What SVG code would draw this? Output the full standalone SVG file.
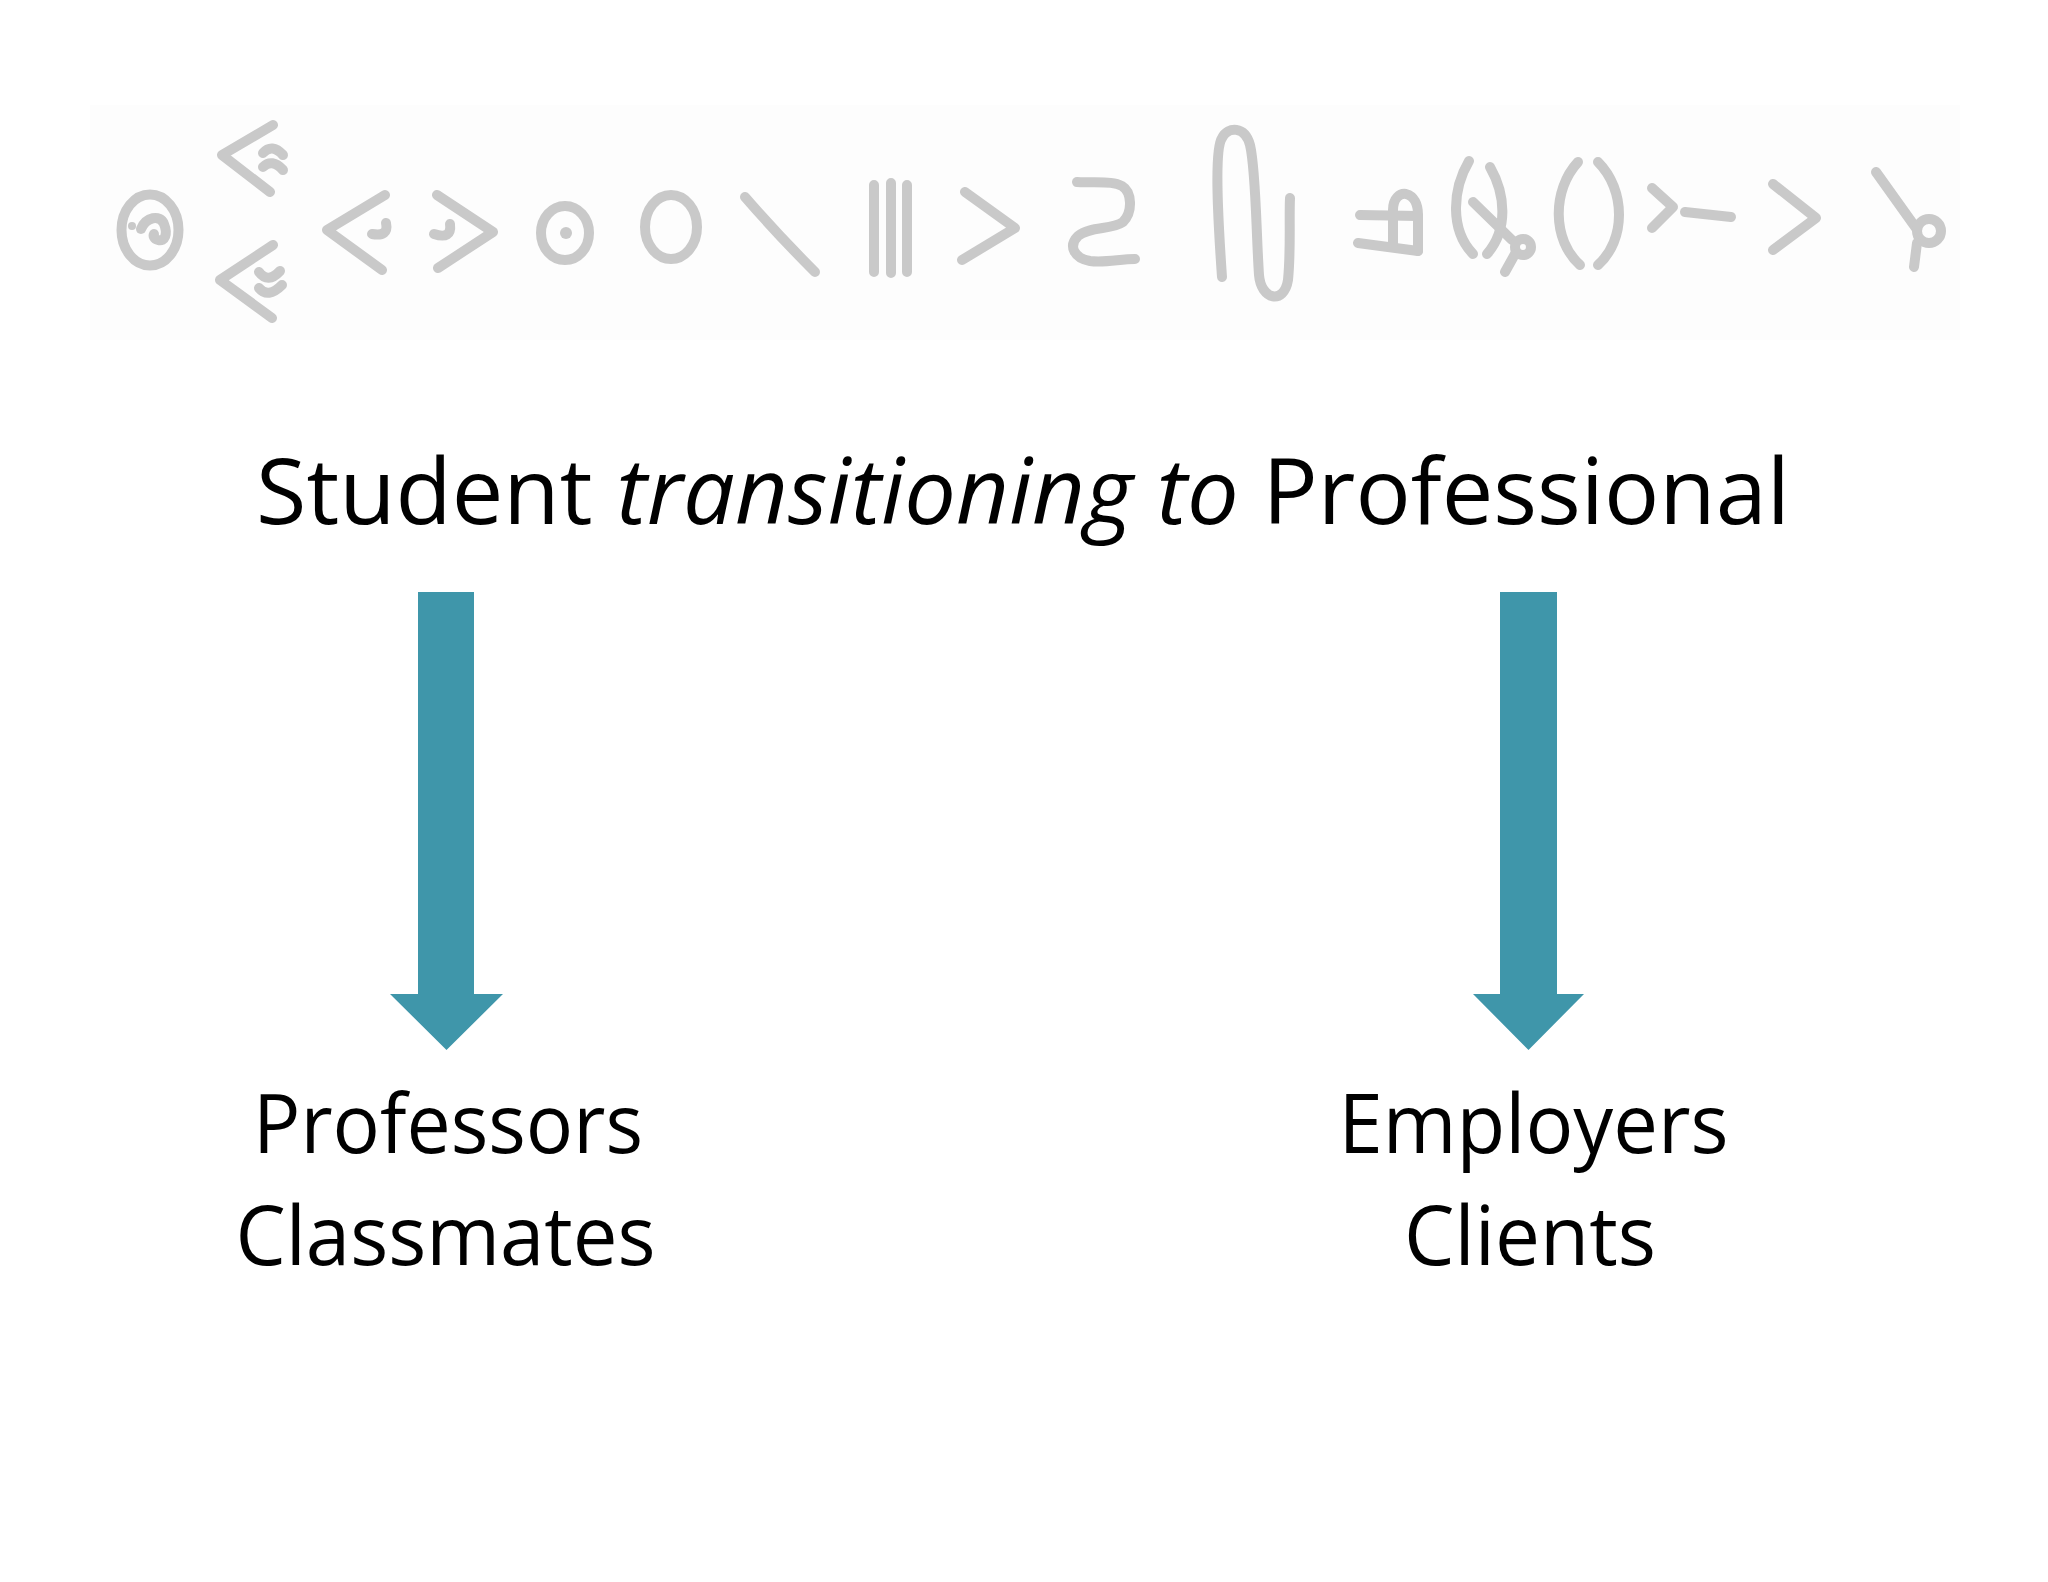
<svg xmlns="http://www.w3.org/2000/svg" width="2048" height="1582" viewBox="0 0 2048 1582">
<style>
.g{fill:none;stroke:#c9c9c9;stroke-width:10;stroke-linecap:round;stroke-linejoin:round}
.d{fill:#c9c9c9}
.t{font-family:"Open Sans","Noto Sans","Liberation Sans",sans-serif;fill:#000}
.title{font-size:92px}
.lbl{font-size:83px}
.arrow{fill:#3F96AA}
</style>
<rect width="2048" height="1582" fill="#ffffff"/>
<g id="glyph-strip">
<rect x="90" y="105" width="1870" height="235" fill="#fdfdfd"/>
<ellipse class="g" cx="150" cy="230" rx="28.5" ry="35.5"/>
<circle class="d" cx="132" cy="226" r="4"/>
<path class="g" d="M141 229 C146 217 160 214 164 224 C168 234 165 242 158 240 C154 239 153 236 154 234"/>
<path class="g" d="M273 125 L222 155 L270 192"/>
<path class="g" d="M263 153 Q272 143 283 155"/>
<path class="g" d="M263 167 Q272 158 283 170"/>
<path class="g" d="M273 245 L220 280 L272 318"/>
<path class="g" d="M259 272 Q268 284 280 271"/>
<path class="g" d="M259 288 Q268 299 282 285"/>
<path class="g" d="M385 195 L327 230 L382 270"/>
<path class="g" d="M386 223 Q389 237 372 234"/>
<path class="g" d="M437 195 L493 232 L438 268"/>
<path class="g" d="M450 224 Q452 240 434 234"/>
<ellipse class="g" cx="565" cy="233" rx="24" ry="27"/>
<circle class="d" cx="566" cy="233" r="6"/>
<ellipse class="g" cx="671" cy="227" rx="26" ry="32"/>
<path class="g" d="M745 197 Q778 235 815 272"/>
<path class="g" d="M874 185 L874 272 M891 183 L891 273 M907 185 L907 272"/>
<path class="g" d="M965 192 L1015 228 L962 260"/>
<path class="g" d="M1077 182 C1100 183 1113 181 1122 186 C1132 192 1133 212 1123 222 C1112 230 1090 226 1078 236 C1068 246 1074 258 1090 261 C1105 263 1120 259 1135 259"/>
<path class="g" d="M1222 277 C1218 220 1214 150 1222 138 C1228 126 1245 126 1250 145 C1256 170 1256 230 1259 275 C1261 300 1284 305 1288 280 C1291 250 1289 220 1290 198"/>
<path class="g" d="M1360 215 L1418 216 M1358 243 L1418 251"/>
<path class="g" d="M1393 245 L1393 210 C1393 198 1400 193 1406 194 C1414 196 1418 204 1418 215 L1418 251"/>
<path class="g" d="M1469 161 C1452 190 1450 230 1473 254"/>
<path class="g" d="M1490 167 C1506 195 1508 230 1487 254"/>
<path class="g" d="M1473 202 L1512 240"/>
<circle class="g" cx="1523" cy="247" r="8"/>
<path class="g" d="M1515 254 L1505 272"/>
<path class="g" d="M1578 162 C1552 190 1552 240 1580 265"/>
<path class="g" d="M1598 162 C1626 190 1626 240 1598 265"/>
<path class="g" d="M1652 188 L1673 207 L1652 228"/>
<path class="g" d="M1685 212 L1731 217"/>
<path class="g" d="M1773 184 L1816 218 L1773 250"/>
<path class="g" d="M1876 172 L1916 228"/>
<circle class="g" cx="1929" cy="231" r="12"/>
<path class="g" d="M1917 243 L1914 267"/>
</g>
<g id="title">
<text class="t title" x="1023" y="524" text-anchor="middle" textLength="1534" lengthAdjust="spacingAndGlyphs">Student <tspan font-style="italic">transitioning to</tspan> Professional</text>
</g>
<g id="connectors">
<polygon class="arrow" points="418,592 474,592 474,994 503,994 446.5,1050 390,994 418,994"/>
<polygon class="arrow" points="1500,592 1557,592 1557,994 1584,994 1528.5,1050 1473,994 1500,994"/>
</g>
<g id="left-node">
<text class="t lbl" x="448" y="1153" text-anchor="middle" textLength="390" lengthAdjust="spacingAndGlyphs">Professors</text>
<text class="t lbl" x="445.5" y="1265" text-anchor="middle" textLength="420" lengthAdjust="spacingAndGlyphs">Classmates</text>
</g>
<g id="right-node">
<text class="t lbl" x="1533.5" y="1153" text-anchor="middle" textLength="390" lengthAdjust="spacingAndGlyphs">Employers</text>
<text class="t lbl" x="1530" y="1265" text-anchor="middle" textLength="252" lengthAdjust="spacingAndGlyphs">Clients</text>
</g>
</svg>
